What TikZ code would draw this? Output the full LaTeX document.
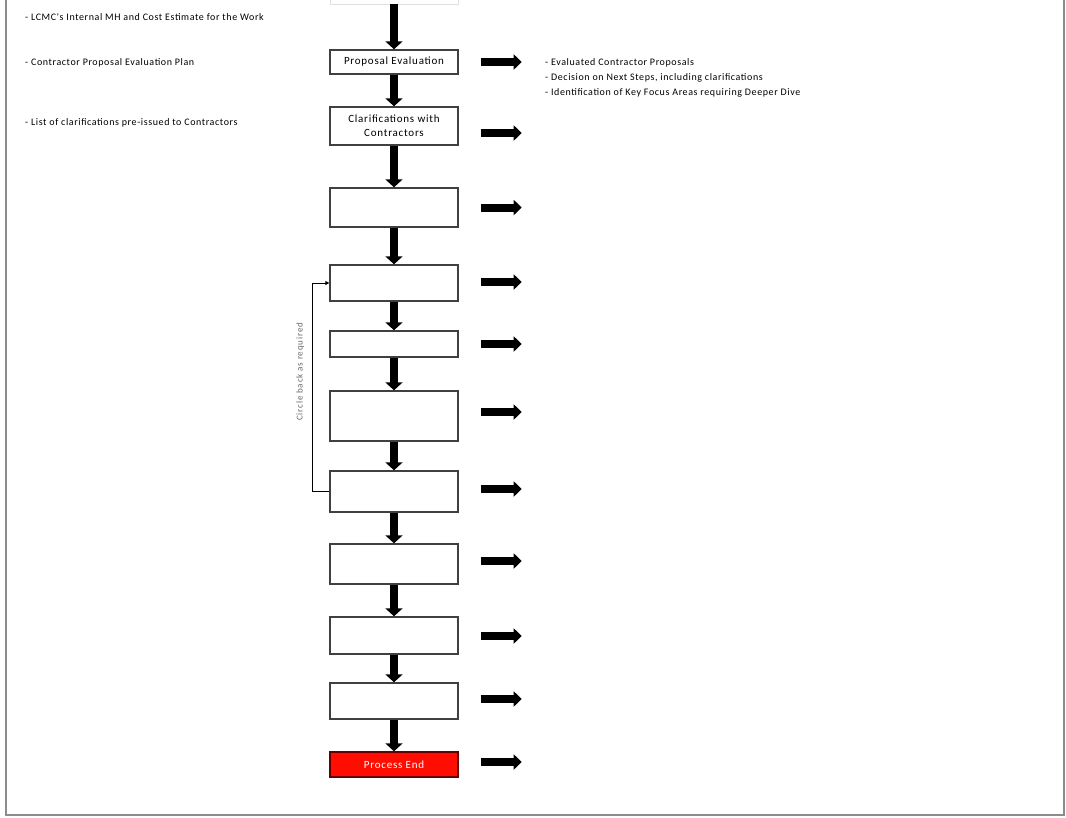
\documentclass[tikz,border=0pt]{standalone}
\usepackage{fontspec}
\setmainfont{Carlito}
\newfontfamily\boxfont[LetterSpace=7]{Carlito}
\newfontfamily\notefont[LetterSpace=6]{Carlito}
\newfontfamily\loopfont[LetterSpace=9]{Carlito}
\usetikzlibrary{arrows.meta}
\begin{document}
\begin{tikzpicture}[x=1pt,y=-1pt,
  stepbox/.style={draw=black!75,line width=1.4pt,fill=white,minimum width=128pt,inner sep=1pt,font=\boxfont\fontsize{11}{14}\selectfont,align=center},
  endbox/.style={stepbox,fill=red!90!orange,draw=black!60!red,text=white},
  downarr/.style={line width=8pt,-{Triangle[width=17pt,length=8pt]},black},
  rightarr/.style={line width=8pt,-{Triangle[width=15pt,length=8pt]},black},
  note/.style={anchor=west,font=\notefont\fontsize{10}{12}\selectfont,inner sep=0pt},
  border/.style={draw=black!45,line width=2pt}]
\useasboundingbox (0,0) rectangle (1066,817);
% page frame
\coordinate (fa) at (6,0);
\coordinate (fb) at (6,815);
\coordinate (fc) at (1064,815);
\coordinate (fd) at (1064,0);
\draw[border] (fa) -- (fb) -- (fc) -- (fd);
% boxes
\node[stepbox,draw=black!12,line width=0.8pt,minimum height=30pt] (b0) at (394,-11) {};
\node[stepbox,minimum height=24pt] (b1) at (394,62) {\raisebox{-1.5pt}{Proposal Evaluation}};
\node[stepbox,minimum height=38pt] (b2) at (394,126) {\raisebox{-2pt}{Clarifications with}\\\raisebox{-2pt}{Contractors}};
\node[stepbox,minimum height=39pt] (b3) at (394,207.5) {};
\node[stepbox,minimum height=36pt] (b4) at (394,283) {};
\node[stepbox,minimum height=26pt] (b5) at (394,344) {};
\node[stepbox,minimum height=50pt] (b6) at (394,416) {};
\node[stepbox,minimum height=41pt] (b7) at (394,491.5) {};
\node[stepbox,minimum height=40pt] (b8) at (394,564) {};
\node[stepbox,minimum height=37pt] (b9) at (394,635.5) {};
\node[stepbox,minimum height=36pt] (b10) at (394,701) {};
\node[endbox,minimum height=25pt] (b11) at (394,764.5) {Process End};
% down arrows
\foreach \a/\b in {b0/b1,b1/b2,b2/b3,b3/b4,b4/b5,b5/b6,b6/b7,b7/b8,b8/b9,b9/b10,b10/b11}
  \draw[downarr] (\a.south) -- (\b.north);
% right arrows
\foreach \b/\dy in {b1/0,b2/-7,b3/0,b4/1,b5/0,b6/4,b7/2.5,b8/3,b9/-0.5,b10/2,b11/2.5}
  \draw[rightarr] ([xshift=22pt,yshift=\dy pt]\b.east) -- ++(41,0);
% loop back
\draw[line width=1pt,-{Triangle[width=4pt,length=4pt]}] (b7.west) -- ++(-17,0) |- (b4.west)
  node[pos=0.287,rotate=90,font=\loopfont\fontsize{9}{10}\selectfont,text=black!60,yshift=12pt] (loopl) {Circle back as required};
% left notes
\node[note] (l1) at (25,17.5) {- LCMC's Internal MH and Cost Estimate for the Work};
\node[note] (l2) at (25,62.5) {- Contractor Proposal Evaluation Plan};
\node[note] (l3) at (25,122.5) {- List of clarifications pre-issued to Contractors};
% right notes
\node[note] (r1) at (545,62.5) {- Evaluated Contractor Proposals};
\node[note] (r2) at (545,77.5) {- Decision on Next Steps, including clarifications};
\node[note] (r3) at (545,92.5) {- Identification of Key Focus Areas requiring Deeper Dive};
\end{tikzpicture}
\end{document}
